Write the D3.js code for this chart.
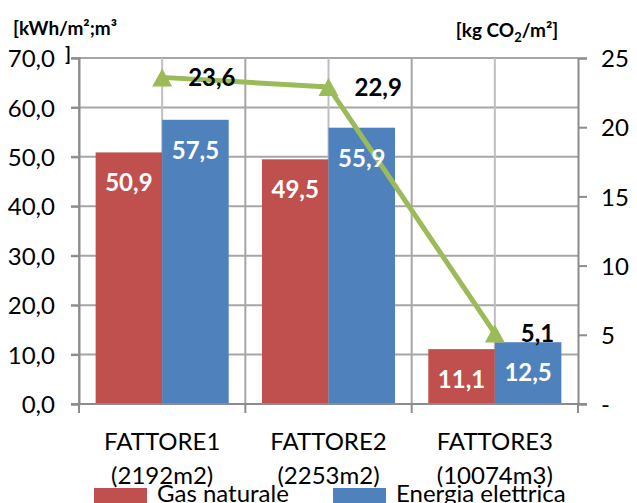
<!DOCTYPE html>
<html>
<head>
<meta charset="utf-8">
<script src="https://cdn.jsdelivr.net/npm/d3@7/dist/d3.min.js"></script>
<style>
  html, body { margin: 0; padding: 0; background: #fff; }
  svg { display: block; }
  text { font-family: Lato, "Open Sans", sans-serif; fill: #000; }
</style>
</head>
<body>
<svg id="chart" width="637" height="503"></svg>
<script>
// Categories (two label lines each)
const categories = ["FATTORE1", "FATTORE2", "FATTORE3"];
const categorySub = ["(2192m2)", "(2253m2)", "(10074m3)"];

// Energy consumption per series [kWh/m²;m³]
const seriesNames = ["Gas naturale", "Energia elettrica"];
const gasValues = [50.9, 49.5, 11.1];
const elecValues = [57.5, 55.9, 12.5];

// Emissions [kg CO2/m²] on the right axis
const co2Values = [23.6, 22.9, 5.1];

// Axis ticks
const leftTicks = [0, 10, 20, 30, 40, 50, 60, 70];
const rightTicks = [0, 5, 10, 15, 20, 25];

const colors = { "Gas naturale": "#C0504D", "Energia elettrica": "#4F81BD" };
const lineColor = "#9BBB59";
const gridColor = "#A6A6A6";
const axisColor = "#8C8C8C";

const fmt1 = v => d3.format(".1f")(v).replace(".", ",");

const svg = d3.select("#chart");
const plot = { left: 79, right: 578, top: 58, bottom: 404 };

const x = d3.scaleBand().domain(categories).range([plot.left, plot.right]).padding(0);
const xSub = d3.scaleBand().domain(seriesNames).range([0, x.bandwidth()])
  .paddingInner(0).paddingOuter(0.25);
const yL = d3.scaleLinear().domain([0, 70]).range([plot.bottom, plot.top]);
const yR = d3.scaleLinear().domain([0, 25]).range([plot.bottom, plot.top]);

// Horizontal gridlines (left axis ticks), extending through the tick marks
const grid = svg.append("g");
grid.selectAll("line.h").data(leftTicks).join("line")
  .attr("x1", plot.left - 8).attr("x2", plot.right)
  .attr("y1", d => yL(d)).attr("y2", d => yL(d))
  .attr("stroke", gridColor).attr("stroke-width", 2);

// Vertical gridlines at category edges and centres
const vLines = [];
categories.forEach(c => { vLines.push(x(c)); vLines.push(x(c) + x.bandwidth() / 2); });
grid.selectAll("line.v").data(vLines).join("line")
  .attr("x1", d => d).attr("x2", d => d)
  .attr("y1", plot.top).attr("y2", plot.bottom)
  .attr("stroke", (d, i) => i % 2 ? "#BFBFBF" : gridColor).attr("stroke-width", 2);

// Bars
const barData = [];
categories.forEach((c, i) => {
  barData.push({ cat: c, s: "Gas naturale", v: gasValues[i] });
  barData.push({ cat: c, s: "Energia elettrica", v: elecValues[i] });
});
svg.append("g").selectAll("rect").data(barData).join("rect")
  .attr("x", d => x(d.cat) + xSub(d.s))
  .attr("width", xSub.bandwidth())
  .attr("y", d => yL(d.v))
  .attr("height", d => yL(0) - yL(d.v))
  .attr("fill", d => colors[d.s]);

// Left axis
const axL = svg.append("g").attr("transform", `translate(${plot.left},0)`)
  .call(d3.axisLeft(yL).tickValues(leftTicks).tickSize(8).tickPadding(16).tickFormat(fmt1));
axL.select(".domain").attr("stroke", axisColor).attr("stroke-width", 2);
axL.selectAll(".tick line").attr("stroke", axisColor).attr("stroke-width", 2);
axL.selectAll(".tick text").attr("font-size", 24).attr("font-family", "Lato").attr("fill", "#000")
  .attr("dy", "0.36em");

// Right axis
const axR = svg.append("g").attr("transform", `translate(${plot.right},0)`)
  .call(d3.axisRight(yR).tickValues(rightTicks).tickSize(9).tickPadding(14)
    .tickFormat(d => d === 0 ? "-" : String(d)));
axR.select(".domain").attr("stroke", axisColor).attr("stroke-width", 2);
axR.selectAll(".tick line").attr("stroke", axisColor).attr("stroke-width", 2);
axR.selectAll(".tick text").attr("font-size", 24).attr("font-family", "Lato").attr("fill", "#000")
  .attr("dy", "0.36em");

// Bottom axis: ticks at category edges
const edges = categories.map(c => x(c)).concat([plot.right]);
const axB = svg.append("g");
axB.append("line").attr("x1", plot.left - 8).attr("x2", plot.right + 9)
  .attr("y1", plot.bottom).attr("y2", plot.bottom)
  .attr("stroke", axisColor).attr("stroke-width", 2);
axB.selectAll("line.t").data(edges).join("line")
  .attr("x1", d => d).attr("x2", d => d)
  .attr("y1", plot.bottom).attr("y2", plot.bottom + 9)
  .attr("stroke", axisColor).attr("stroke-width", 2);

// Category labels
const catG = svg.append("g");
categories.forEach((c, i) => {
  const cx = x(c) + x.bandwidth() / 2;
  catG.append("text").attr("x", cx).attr("y", 450).attr("text-anchor", "middle")
    .attr("font-size", 24).text(c);
  catG.append("text").attr("x", cx).attr("y", 484).attr("text-anchor", "middle")
    .attr("font-size", 24).text(categorySub[i]);
});

// CO2 line with triangle markers
const pts = categories.map((c, i) => ({ x: x(c) + x.bandwidth() / 2, y: yR(co2Values[i]), v: co2Values[i] }));
svg.append("path").datum(pts)
  .attr("d", d3.line().x(d => d.x).y(d => d.y))
  .attr("fill", "none").attr("stroke", lineColor).attr("stroke-width", 5)
  .attr("stroke-linejoin", "round");
svg.append("g").selectAll("path").data(pts).join("path")
  .attr("d", d => `M${d.x},${d.y - 9}L${d.x + 10},${d.y + 9}L${d.x - 10},${d.y + 9}Z`)
  .attr("fill", lineColor);

// Bar value labels
svg.append("g").selectAll("text").data(barData).join("text")
  .attr("x", d => x(d.cat) + xSub(d.s) + xSub.bandwidth() / 2)
  .attr("y", d => yL(d.v) + 39)
  .attr("text-anchor", "middle")
  .attr("font-size", 24).attr("font-weight", "bold")
  .style("fill", "#fff")
  .text(d => fmt1(d.v));

// Line value labels
svg.append("g").selectAll("text").data(pts).join("text")
  .attr("x", d => d.x + 26).attr("y", d => d.y + 9)
  .attr("font-size", 24).attr("font-weight", "bold")
  .text(d => fmt1(d.v));

// Axis titles
const tL = svg.append("text").attr("text-anchor", "middle").attr("font-size", 19).attr("font-weight", "bold");
tL.append("tspan").attr("x", 65).attr("y", 35).text("[kWh/m²;m³");
tL.append("tspan").attr("x", 68).attr("y", 61).text("]");

const tR = svg.append("text").attr("x", 507).attr("y", 37).attr("text-anchor", "middle")
  .attr("font-size", 19).attr("font-weight", "bold");
tR.append("tspan").text("[kg CO");
tR.append("tspan").attr("font-size", 13).attr("dy", 5).text("2");
tR.append("tspan").attr("dy", -5).text("/m²]");

// Legend
const lg = svg.append("g");
const legendItems = [{ s: "Gas naturale", x: 94 }, { s: "Energia elettrica", x: 333 }];
lg.selectAll("rect").data(legendItems).join("rect")
  .attr("x", d => d.x).attr("y", 488).attr("width", 53).attr("height", 17)
  .attr("fill", d => colors[d.s]);
lg.selectAll("text").data(legendItems).join("text")
  .attr("x", d => d.x + 63).attr("y", 502).attr("font-size", 24)
  .text(d => d.s);
</script>
</body>
</html>
